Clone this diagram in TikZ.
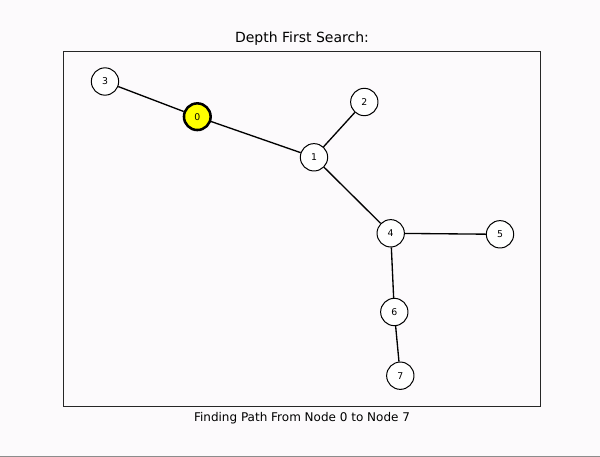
\documentclass[tikz,border=0pt]{standalone}
\usepackage{fontspec}
\setmainfont{DejaVu Sans}
\definecolor{bg}{RGB}{252,250,252}
\definecolor{hl}{RGB}{255,255,0}
\begin{document}
\begin{tikzpicture}[x=0.75pt,y=-0.75pt,
  vertex/.style={circle,draw=black,fill=white,line width=0.75pt,minimum size=20.5pt,inner sep=0pt,font=\fontsize{7pt}{8pt}\selectfont},
  current/.style={vertex,fill=hl,line width=1.9pt,minimum size=20pt},
  edge/.style={line width=1pt,black}]
\fill[bg] (0,0) rectangle (600,457);
\useasboundingbox (0,0) rectangle (600,457);
\fill[gray!90] (0,455.5) rectangle (600,457);
\node[draw=black!85,line width=0.75pt,minimum width=357.75pt,minimum height=266.25pt,inner sep=0pt] (frame) at (302,228.5) {};
\node[font=\fontsize{10.5pt}{12pt}\selectfont] (title) at (302,39) {Depth First Search:};
\node[font=\fontsize{9pt}{11pt}\selectfont] (caption) at (302,418) {Finding Path From Node 0 to Node 7};
\node[vertex] (n3) at (105,81.5) {3};
\node[current] (n0) at (197.3,116.7) {0};
\node[vertex] (n1) at (314,157.3) {1};
\node[vertex] (n2) at (364.3,102) {2};
\node[vertex] (n4) at (390.7,233.3) {4};
\node[vertex] (n5) at (500,234.3) {5};
\node[vertex] (n6) at (394.3,312) {6};
\node[vertex] (n7) at (400.3,375.7) {7};
\draw[edge] (n3) -- (n0);
\draw[edge] (n0) -- (n1);
\draw[edge] (n1) -- (n2);
\draw[edge] (n1) -- (n4);
\draw[edge] (n4) -- (n5);
\draw[edge] (n4) -- (n6);
\draw[edge] (n6) -- (n7);
\end{tikzpicture}
\end{document}
